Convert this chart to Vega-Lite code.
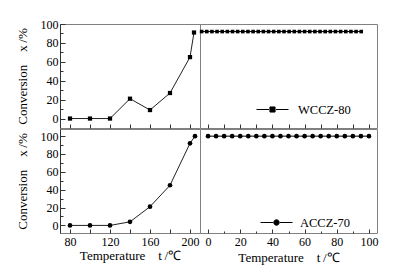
{
  "$schema": "https://vega.github.io/schema/vega-lite/v6.json",
  "padding": {"left": 15, "top": 17, "right": 18, "bottom": 5},
  "background": "white",
  "datasets": {
    "wl": [
      {"t": 80, "conv": 0, "series": "WCCZ-80"},
      {"t": 100, "conv": 0, "series": "WCCZ-80"},
      {"t": 120, "conv": 0, "series": "WCCZ-80"},
      {"t": 140, "conv": 21, "series": "WCCZ-80"},
      {"t": 160, "conv": 9, "series": "WCCZ-80"},
      {"t": 180, "conv": 27, "series": "WCCZ-80"},
      {"t": 200, "conv": 65, "series": "WCCZ-80"},
      {"t": 204, "conv": 91, "series": "WCCZ-80"}
    ],
    "wr": [
      {"t": -4, "conv": 92, "series": "WCCZ-80"},
      {"t": -0.8, "conv": 92, "series": "WCCZ-80"},
      {"t": 2.4, "conv": 92, "series": "WCCZ-80"},
      {"t": 5.6, "conv": 92, "series": "WCCZ-80"},
      {"t": 8.8, "conv": 92, "series": "WCCZ-80"},
      {"t": 12, "conv": 92, "series": "WCCZ-80"},
      {"t": 15.2, "conv": 92, "series": "WCCZ-80"},
      {"t": 18.4, "conv": 92, "series": "WCCZ-80"},
      {"t": 21.6, "conv": 92, "series": "WCCZ-80"},
      {"t": 24.8, "conv": 92, "series": "WCCZ-80"},
      {"t": 28, "conv": 92, "series": "WCCZ-80"},
      {"t": 31.2, "conv": 92, "series": "WCCZ-80"},
      {"t": 34.4, "conv": 92, "series": "WCCZ-80"},
      {"t": 37.6, "conv": 92, "series": "WCCZ-80"},
      {"t": 40.8, "conv": 92, "series": "WCCZ-80"},
      {"t": 44, "conv": 92, "series": "WCCZ-80"},
      {"t": 47.2, "conv": 92, "series": "WCCZ-80"},
      {"t": 50.4, "conv": 92, "series": "WCCZ-80"},
      {"t": 53.6, "conv": 92, "series": "WCCZ-80"},
      {"t": 56.8, "conv": 92, "series": "WCCZ-80"},
      {"t": 60, "conv": 92, "series": "WCCZ-80"},
      {"t": 63.2, "conv": 92, "series": "WCCZ-80"},
      {"t": 66.4, "conv": 92, "series": "WCCZ-80"},
      {"t": 69.6, "conv": 92, "series": "WCCZ-80"},
      {"t": 72.8, "conv": 92, "series": "WCCZ-80"},
      {"t": 76, "conv": 92, "series": "WCCZ-80"},
      {"t": 79.2, "conv": 92, "series": "WCCZ-80"},
      {"t": 82.4, "conv": 92, "series": "WCCZ-80"},
      {"t": 85.6, "conv": 92, "series": "WCCZ-80"},
      {"t": 88.8, "conv": 92, "series": "WCCZ-80"},
      {"t": 92, "conv": 92, "series": "WCCZ-80"},
      {"t": 95.2, "conv": 92, "series": "WCCZ-80"}
    ],
    "al": [
      {"t": 80, "conv": 0, "series": "ACCZ-70"},
      {"t": 100, "conv": 0, "series": "ACCZ-70"},
      {"t": 120, "conv": 0, "series": "ACCZ-70"},
      {"t": 140, "conv": 4, "series": "ACCZ-70"},
      {"t": 160, "conv": 21, "series": "ACCZ-70"},
      {"t": 180, "conv": 45, "series": "ACCZ-70"},
      {"t": 200, "conv": 92, "series": "ACCZ-70"},
      {"t": 205, "conv": 100, "series": "ACCZ-70"}
    ],
    "ar": [
      {"t": 0, "conv": 100, "series": "ACCZ-70"},
      {"t": 5, "conv": 100, "series": "ACCZ-70"},
      {"t": 10, "conv": 100, "series": "ACCZ-70"},
      {"t": 15, "conv": 100, "series": "ACCZ-70"},
      {"t": 20, "conv": 100, "series": "ACCZ-70"},
      {"t": 25, "conv": 100, "series": "ACCZ-70"},
      {"t": 30, "conv": 100, "series": "ACCZ-70"},
      {"t": 35, "conv": 100, "series": "ACCZ-70"},
      {"t": 40, "conv": 100, "series": "ACCZ-70"},
      {"t": 45, "conv": 100, "series": "ACCZ-70"},
      {"t": 50, "conv": 100, "series": "ACCZ-70"},
      {"t": 55, "conv": 100, "series": "ACCZ-70"},
      {"t": 60, "conv": 100, "series": "ACCZ-70"},
      {"t": 65, "conv": 100, "series": "ACCZ-70"},
      {"t": 70, "conv": 100, "series": "ACCZ-70"},
      {"t": 75, "conv": 100, "series": "ACCZ-70"},
      {"t": 80, "conv": 100, "series": "ACCZ-70"},
      {"t": 85, "conv": 100, "series": "ACCZ-70"},
      {"t": 90, "conv": 100, "series": "ACCZ-70"},
      {"t": 95, "conv": 100, "series": "ACCZ-70"},
      {"t": 100, "conv": 100, "series": "ACCZ-70"}
    ]
  },
  "spacing": -2,
  "resolve": {"scale": {"color": "independent", "y": "independent"}, "legend": {"color": "independent"}},
  "vconcat": [
    {
      "bounds": "flush",
      "spacing": 0,
      "resolve": {"scale": {"color": "independent", "y": "shared"}, "legend": {"color": "independent"}},
      "hconcat": [
        {
          "width": 140, "height": 104,
          "data": {"name": "wl"},
          "layer": [
            {"mark": {"type": "line", "color": "#222", "strokeWidth": 1}, "encoding": {}},
            {"mark": {"type": "point", "shape": "square", "filled": true, "color": "#000", "opacity": 1, "size": 18}, "encoding": {}}
          ],
          "encoding": {
            "x": {"field": "t", "type": "quantitative", "scale": {"domain": [70, 210], "nice": false, "zero": false},
                  "axis": {"title": null, "labels": false, "domain": false, "values": [80, 100, 120, 140, 160, 180, 200], "tickSize": -4}},
            "y": {"field": "conv", "type": "quantitative", "scale": {"domain": [-10, 100], "nice": false, "zero": false},
                  "axis": {"title": "Conversion\u00a0\u00a0\u00a0\u00a0x\u2009/%", "titlePadding": 11,
                           "values": [0, 10, 20, 30, 40, 50, 60, 70, 80, 90, 100],
                           "labelExpr": "datum.value % 20 === 0 ? datum.label : ''",
                           "tickSize": {"condition": {"test": "datum.value % 20 === 0", "value": -5}, "value": -3},
                           "labelPadding": 7}}
          }
        },
        {
          "width": 177, "height": 104,
          "data": {"name": "wr"},
          "resolve": {"scale": {"color": "independent"}, "legend": {"color": "independent"}},
          "layer": [
            {"mark": {"type": "line", "strokeWidth": 1}, "encoding": {
              "color": {"field": "series", "type": "nominal", "scale": {"range": ["#000"]},
                        "legend": {"title": null, "orient": "none", "legendX": 56, "legendY": 69,
                                   "symbolType": "M-1,0H-0.22M0.22,0H1M-0.16,-0.16H0.16V0.16H-0.16Z",
                                   "symbolSize": 1024, "symbolFillColor": "#000", "symbolStrokeColor": "#000", "symbolStrokeWidth": 1,
                                   "labelFont": "Liberation Serif", "labelFontSize": 12.5, "labelColor": "#000", "labelOffset": 9}}}},
            {"mark": {"type": "point", "shape": "square", "filled": true, "color": "#000", "opacity": 1, "size": 13}, "encoding": {}}
          ],
          "encoding": {
            "x": {"field": "t", "type": "quantitative", "scale": {"domain": [-5, 105], "nice": false, "zero": false},
                  "axis": {"title": null, "labels": false, "domain": false, "values": [0, 10, 20, 30, 40, 50, 60, 70, 80, 90, 100], "tickSize": -4}},
            "y": {"field": "conv", "type": "quantitative", "scale": {"domain": [-10, 100], "nice": false, "zero": false}, "axis": null}
          }
        }
      ]
    },
    {
      "bounds": "flush",
      "spacing": 0,
      "resolve": {"scale": {"color": "independent", "y": "shared"}, "legend": {"color": "independent"}},
      "hconcat": [
        {
          "width": 140, "height": 104,
          "data": {"name": "al"},
          "layer": [
            {"mark": {"type": "line", "color": "#222", "strokeWidth": 1}, "encoding": {}},
            {"mark": {"type": "point", "shape": "circle", "filled": true, "color": "#000", "opacity": 1, "size": 22}, "encoding": {}}
          ],
          "encoding": {
            "x": {"field": "t", "type": "quantitative", "scale": {"domain": [70, 210], "nice": false, "zero": false},
                  "axis": {"title": "Temperature\u00a0\u00a0\u00a0\u00a0t\u2009/\u2103", "titlePadding": 2, "domain": false,
                           "values": [80, 100, 120, 140, 160, 180, 200],
                           "labelExpr": "datum.value % 40 === 0 ? datum.label : ''",
                           "tickSize": -4, "labelPadding": 7.5}},
            "y": {"field": "conv", "type": "quantitative", "scale": {"domain": [-8.5, 108], "nice": false, "zero": false},
                  "axis": {"title": "Conversion\u00a0\u00a0\u00a0\u00a0x\u2009/%", "titlePadding": 11,
                           "values": [0, 10, 20, 30, 40, 50, 60, 70, 80, 90, 100],
                           "labelExpr": "datum.value % 20 === 0 ? datum.label : ''",
                           "tickSize": {"condition": {"test": "datum.value % 20 === 0", "value": -5}, "value": -3},
                           "labelPadding": 7}}
          }
        },
        {
          "width": 177, "height": 104,
          "data": {"name": "ar"},
          "resolve": {"scale": {"color": "independent"}, "legend": {"color": "independent"}},
          "layer": [
            {"mark": {"type": "line", "strokeWidth": 1}, "encoding": {
              "color": {"field": "series", "type": "nominal", "scale": {"range": ["#000"]},
                        "legend": {"title": null, "orient": "none", "legendX": 60, "legendY": 77,
                                   "symbolType": "M-1,0H-0.22M0.22,0H1M-0.17,0A0.17,0.17 0 1,0 0.17,0A0.17,0.17 0 1,0 -0.17,0Z",
                                   "symbolSize": 1024, "symbolFillColor": "#000", "symbolStrokeColor": "#000", "symbolStrokeWidth": 1,
                                   "labelFont": "Liberation Serif", "labelFontSize": 12.5, "labelColor": "#000", "labelOffset": 7}}}},
            {"mark": {"type": "point", "shape": "circle", "filled": true, "color": "#000", "opacity": 1, "size": 22}, "encoding": {}}
          ],
          "encoding": {
            "x": {"field": "t", "type": "quantitative", "scale": {"domain": [-5, 105], "nice": false, "zero": false},
                  "axis": {"title": "Temperature\u00a0\u00a0\u00a0\u00a0t\u2009/\u2103", "titlePadding": 2, "domain": false,
                           "values": [0, 10, 20, 30, 40, 50, 60, 70, 80, 90, 100],
                           "labelExpr": "datum.value % 20 === 0 ? datum.label : ''",
                           "tickSize": {"condition": {"test": "datum.value % 20 === 0", "value": -4}, "value": -2}, "labelPadding": 7.5}},
            "y": {"field": "conv", "type": "quantitative", "scale": {"domain": [-8.5, 108], "nice": false, "zero": false}, "axis": null}
          }
        }
      ]
    }
  ],
  "config": {
    "font": "Liberation Serif",
    "view": {"stroke": "#808080", "strokeWidth": 1},
    "axis": {"labelFont": "Liberation Serif", "labelFontSize": 12, "labelColor": "#000",
             "titleFont": "Liberation Serif", "titleFontSize": 13, "titleFontWeight": "normal", "titleColor": "#000",
             "grid": false, "domainColor": "#333", "tickColor": "#333", "labelFlush": false, "labelOverlap": false}
  }
}
